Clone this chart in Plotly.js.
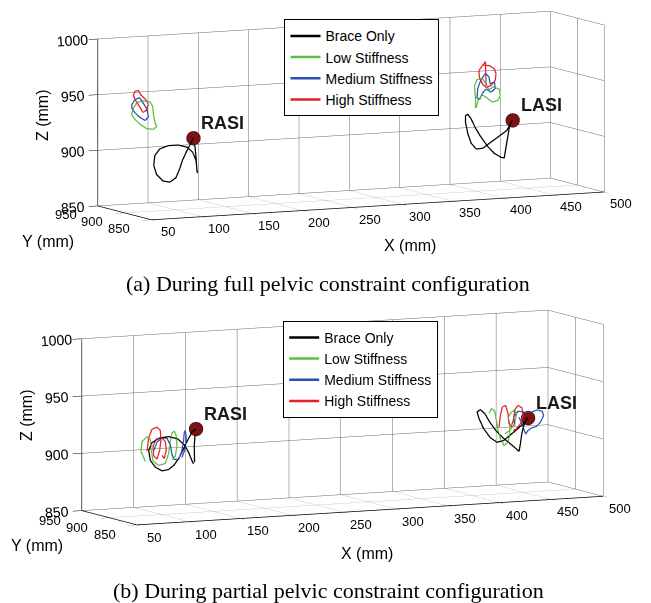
<!DOCTYPE html>
<html><head><meta charset="utf-8">
<script src="https://cdn.plot.ly/plotly-3.0.1.min.js"></script>
<style>html,body{margin:0;padding:0;background:#fff;}#c{width:651px;height:603px;}</style>
</head><body><div id="c"></div>
<script>
// ---------- axes / tick labels ----------
const X_RANGE = [50,500];
const Y_RANGE = [850,950];
const Z_RANGE = [850,1000];
const X_TICKS = [50,100,150,200,250,300,350,400,450,500];
const Y_TICKS = [850,900,950];
const Z_TICKS = [850,900,950,1000];
const SERIES = ['Brace Only','Low Stiffness','Medium Stiffness','High Stiffness'];
const COLORS = ['#000000','#5cbf3f','#2b4fb4','#e8202a'];
const AXIS_TITLES = ['X (mm)','Y (mm)','Z (mm)'];

// ---------- (a) full pelvic constraint ----------
const A_RASI_BRACE_X = [122.3,121,117.7,112.3,103.3,93.3,85,80,79,81.7,88.3,95,101,104.3,107.7,111.7,115.7,118.3,119.7,121,122];
const A_RASI_BRACE_Y = [900,900,900,900,900,900,900,900,900,900,900,900,900,900,900,900,900,900,900,900,900];
const A_RASI_BRACE_Z = [881.7,893.1,900.7,905.5,908.0,908.0,905.5,899.8,891.0,882.8,876.4,875.2,878.7,885.6,894.4,902.0,908.8,913.5,907.5,896.1,882.6];
const A_RASI_LOW_X = [58.7,62.1,68.7,75.4,78.0,78.7,80.4,82.0,78.7,72.1,65.4,60.4,57.1,58.7];
const A_RASI_LOW_Y = [900,900,900,900,900,900,900,900,900,900,900,900,900,900];
const A_RASI_LOW_Z = [943.8,948.2,949.7,948.2,943.8,936.4,928.9,925.9,923.5,924.4,928.9,933.3,937.8,943.8];
const A_RASI_MED_X = [57.1,60.4,64.7,68.1,72.1,73.7,70.4,65.4,60.4,57.1,57.1];
const A_RASI_MED_Y = [900,900,900,900,900,900,900,900,900,900,900];
const A_RASI_MED_Z = [946.7,951.2,952.7,948.2,942.2,934.8,931.9,934.8,939.3,943.8,946.7];
const A_RASI_HIGH_X = [60.4,63.7,66.1,71.4,73.7,71.4,68.1,65.4,61.4,58.7,60.4];
const A_RASI_HIGH_Y = [900,900,900,900,900,900,900,900,900,900,900];
const A_RASI_HIGH_Z = [958.7,959.2,955.1,950.3,946.2,940.8,939.3,943.8,949.7,955.1,958.7];

const A_LASI_BRACE_X = [435.6,433.0,429.7,424.1,418.4,412.5,406.0,399.4,394.5,391.2,388.8,388.8,391.2,394.5,398.7,404.3,410.9,417.4,424.1,427.3,429.0,430.7,432.3,434.9];
const A_LASI_BRACE_Y = [900,900,900,900,900,900,900,900,900,900,900,900,900,900,900,900,900,900,900,900,900,900,900,900];
const A_LASI_BRACE_Z = [911.9,908.0,902.8,899.5,895.9,892.4,888.3,888.0,893.4,901.9,912.4,918.4,919.7,915.1,906.8,898.2,889.6,883.1,879.2,878.4,887.9,896.7,905.5,911.3];
const A_LASI_LOW_X = [398.7,398.7,397.7,400.1,405.3,409.3,412.0,416.4,422.4,423.3,420.8,415.2,409.3,405.3,401.1,399.4];
const A_LASI_LOW_Y = [900,900,900,900,900,900,900,900,900,900,900,900,900,900,900,900];
const A_LASI_LOW_Z = [924.9,933.9,944.3,950.2,951.1,945.7,940.4,942.8,940.4,934.5,930.3,929.4,933.9,936.3,931.4,924.9];
const A_LASI_MED_X = [400.1,401.1,404.3,408.6,412.0,413.3,417.4,418.4,414.2,409.3,406.0,402.7,400.1];
const A_LASI_MED_Y = [900,900,900,900,900,900,900,900,900,900,900,900,900];
const A_LASI_MED_Z = [933.9,942.8,950.2,955.3,952.3,945.7,947.2,941.3,938.3,941.3,938.3,932.3,933.9];
const A_LASI_HIGH_X = [409.3,408.6,406.0,412.5,417.4,419.1,418.4,414.2,409.3,406.0,402.7,402.1,402.7,406.0];
const A_LASI_HIGH_Y = [900,900,900,900,900,900,900,900,900,900,900,900,900,900];
const A_LASI_HIGH_Z = [944.3,966.0,963.0,962.2,959.1,954.7,948.8,944.3,942.8,945.7,951.7,957.7,959.1,963.0];

const A_MARKER_X = [118.3,435.6];
const A_MARKER_Y = [900,900];
const A_MARKER_Z = [913.5,911.9];

// ---------- (b) partial pelvic constraint ----------
const B_RASI_BRACE_X = [132.2,131.9,132.9,133.5,129.7,125.4,121.6,117.7,112.6,107.1,100.8,94.3,89.5,87.9,91.1,98.5,107.1,115.8,122.3,126.4,129.7,131.2];
const B_RASI_BRACE_Y = [900,900,900,900,900,900,900,900,900,900,900,900,900,900,900,900,900,900,900,900,900,900];
const B_RASI_BRACE_Z = [893.9,908.5,920.2,923.0,920.3,913.2,906.2,899.1,892.7,888.9,888.1,891.7,897.9,906.7,913.3,917.0,917.6,915.3,909.6,903.0,895.4,892.4];
const B_RASI_LOW_X = [84.7,80.5,81.5,86.3,89.5,90.2,92.1,97.5,104.0,107.2,108.8,110.4,112.6,114.6,115.2,113.6,110.4];
const B_RASI_LOW_Y = [900,900,900,900,900,900,900,900,900,900,900,900,900,900,900,900,900];
const B_RASI_LOW_Z = [897.3,906.1,914.8,918.6,916.3,907.5,897.3,892.9,894.4,903.1,913.4,920.7,922.1,917.7,909.0,900.2,897.3];
const B_RASI_MED_X = [92.7,95.9,100.8,105.6,108.8,110.4,112.6,116.8,120.0,121.6,122.3,123.2,124.2,123.2,120.0];
const B_RASI_MED_Y = [900,900,900,900,900,900,900,900,900,900,900,900,900,900,900];
const B_RASI_MED_Z = [906.1,913.4,916.9,916.3,910.4,901.7,897.3,897.3,904.6,913.4,920.7,922.1,916.3,906.1,898.7];
const B_RASI_HIGH_X = [86.3,87.9,91.1,95.9,99.1,99.8,98.5,95.9,92.7,92.1,95.3,100.8,104.0,104.9,103.0,100.8];
const B_RASI_HIGH_Y = [900,900,900,900,900,900,900,900,900,900,900,900,900,900,900,900];
const B_RASI_HIGH_Z = [906.1,917.7,925.0,926.5,923.6,914.8,906.1,898.7,901.7,910.4,916.3,916.9,913.4,906.1,898.7,901.7];

const B_LASI_BRACE_X = [454.0,449.2,442.8,436.4,430.6,424.2,417.8,411.3,406.8,404.9,408.1,412.3,417.1,422.9,429.9,438.0,445.4,446.7,448.0,449.9,452.4];
const B_LASI_BRACE_Y = [900,900,900,900,900,900,900,900,900,900,900,900,900,900,900,900,900,900,900,900,900];
const B_LASI_BRACE_Z = [914.8,909.7,904.8,900.3,896.3,895.1,899.3,907.6,916.7,922.6,924.5,920.8,913.2,905.5,898.6,892.3,886.0,892.4,901.0,908.2,913.0];
const B_LASI_LOW_X = [416.5,418.7,421.9,423.5,425.1,427.4,430.9,434.8,436.4,436.4,434.8,438.0,441.2,442.8,441.2,436.4,431.6];
const B_LASI_LOW_Y = [900,900,900,900,900,900,900,900,900,900,900,900,900,900,900,900,900];
const B_LASI_LOW_Z = [920.5,924.8,922.5,914.2,905.4,897.9,891.8,894.5,901.7,910.5,916.4,920.6,922.5,918.9,910.2,904.7,902.0];
const B_LASI_MED_X = [441.2,440.2,444.4,450.8,457.3,462.7,467.9,469.1,465.9,462.1,457.3,454.0,451.8,449.9,447.6,445.4];
const B_LASI_MED_Y = [900,900,900,900,900,900,900,900,900,900,900,900,900,900,900,900];
const B_LASI_MED_Z = [908.7,916.1,921.1,919.8,919.4,921.2,919.7,915.8,910.2,906.7,905.7,903.6,900.8,905.3,911.3,915.8];
const B_LASI_HIGH_X = [426.1,427.4,429.3,432.5,434.8,435.7,438.0,440.2,441.2,444.4,448.3,449.2,446.7,442.8,439.6];
const B_LASI_HIGH_Y = [900,900,900,900,900,900,900,900,900,900,900,900,900,900,900];
const B_LASI_HIGH_Z = [908.2,918.4,925.5,926.8,919.4,910.6,908.1,914.7,922.5,926.1,923.8,917.0,909.9,905.7,904.5];

const B_MARKER_X = [133.5,454.0];
const B_MARKER_Y = [900,900];
const B_MARKER_Z = [923.0,914.8];

const MARKER_LABELS = ['RASI','LASI'];
const CAPTIONS = ['(a) During full pelvic constraint configuration','(b) During partial pelvic constraint configuration'];

// ---------- build traces ----------
const panels = [
  {scene:'scene', legend:'legend',
   rasi:[[A_RASI_BRACE_X,A_RASI_BRACE_Y,A_RASI_BRACE_Z],[A_RASI_LOW_X,A_RASI_LOW_Y,A_RASI_LOW_Z],[A_RASI_MED_X,A_RASI_MED_Y,A_RASI_MED_Z],[A_RASI_HIGH_X,A_RASI_HIGH_Y,A_RASI_HIGH_Z]],
   lasi:[[A_LASI_BRACE_X,A_LASI_BRACE_Y,A_LASI_BRACE_Z],[A_LASI_LOW_X,A_LASI_LOW_Y,A_LASI_LOW_Z],[A_LASI_MED_X,A_LASI_MED_Y,A_LASI_MED_Z],[A_LASI_HIGH_X,A_LASI_HIGH_Y,A_LASI_HIGH_Z]],
   mk:[A_MARKER_X,A_MARKER_Y,A_MARKER_Z]},
  {scene:'scene2', legend:'legend2',
   rasi:[[B_RASI_BRACE_X,B_RASI_BRACE_Y,B_RASI_BRACE_Z],[B_RASI_LOW_X,B_RASI_LOW_Y,B_RASI_LOW_Z],[B_RASI_MED_X,B_RASI_MED_Y,B_RASI_MED_Z],[B_RASI_HIGH_X,B_RASI_HIGH_Y,B_RASI_HIGH_Z]],
   lasi:[[B_LASI_BRACE_X,B_LASI_BRACE_Y,B_LASI_BRACE_Z],[B_LASI_LOW_X,B_LASI_LOW_Y,B_LASI_LOW_Z],[B_LASI_MED_X,B_LASI_MED_Y,B_LASI_MED_Z],[B_LASI_HIGH_X,B_LASI_HIGH_Y,B_LASI_HIGH_Z]],
   mk:[B_MARKER_X,B_MARKER_Y,B_MARKER_Z]}
];
const traces = [];
panels.forEach((p,pi)=>{
  for(let k=0;k<4;k++){
    [p.rasi[k], p.lasi[k]].forEach((d,j)=>{
      traces.push({type:'scatter3d', mode:'lines', scene:p.scene, legend:p.legend,
        x:d[0], y:d[1], z:d[2], name:SERIES[k], legendgroup:'g'+pi+'_'+k,
        showlegend:j===0, line:{color:COLORS[k], width:2.5}, hoverinfo:'skip'});
    });
  }
  traces.push({type:'scatter3d', mode:'markers', scene:p.scene, legend:p.legend,
    x:p.mk[0], y:p.mk[1], z:p.mk[2], showlegend:false, hoverinfo:'skip',
    marker:{size:8, color:'#7d1214', line:{color:'#2a0000', width:1}}});
});

const FONT = 'Liberation Sans, Arial, Helvetica, sans-serif';
function axis(range, tickvals, ticklen, showLabels){
  return {range:range, autorange:false, tickvals:tickvals, ticktext:tickvals.map(String),
    showticklabels:showLabels,
    showbackground:false, showgrid:true, gridcolor:'#686868', gridwidth:1,
    showline:true, linecolor:'#000', linewidth:1.5, ticks:'outside', tickcolor:'#000', ticklen:ticklen,
    tickfont:{family:FONT, size:13, color:'#000'}, showspikes:false, zeroline:false,
    title:{text:''}};
}
const R = 10;
const EYE = {x:-0.435*R, y:-0.892*R, z:0.126*R};
function scene(dom, mk, K){
  const anns = [];
  // marker names
  mk[0].forEach((v,i)=>anns.push({x:mk[0][i], y:mk[1][i], z:mk[2][i], text:'<b>'+MARKER_LABELS[i]+'</b>',
      showarrow:false, xanchor:'left', yanchor:'middle', xshift:6, yshift:15,
      font:{family:FONT, size:18, color:'#1a1a1a'}}));
  // x tick labels along the front bottom edge
  X_TICKS.forEach(t=>anns.push({x:t, y:Y_RANGE[0], z:Z_RANGE[0], text:String(t), showarrow:false,
      xanchor:'center', yanchor:'middle', xshift:17, yshift:-12, font:{family:FONT, size:13, color:'#000'}}));
  // y tick labels along the left bottom edge
  Y_TICKS.forEach(t=>anns.push({x:X_RANGE[0], y:t, z:Z_RANGE[0], text:String(t), showarrow:false,
      xanchor:'center', yanchor:'middle', xshift:-32, yshift:-9, font:{family:FONT, size:13, color:'#000'}}));
  return {domain:dom,
    xaxis:axis(X_RANGE, X_TICKS, 10, false),
    yaxis:axis(Y_RANGE, Y_TICKS, 8, false),
    zaxis:axis(Z_RANGE, Z_TICKS, 6, true),
    aspectmode:'manual', aspectratio:{x:1*K, y:0.243*K, z:0.334*K},
    camera:{eye:EYE, center:{x:0,y:0,z:0}, up:{x:0,y:0,z:1}, projection:{type:'orthographic'}},
    annotations: anns
  };
}
const legendBase = {bgcolor:'#fff', bordercolor:'#000', borderwidth:1, xanchor:'left', yanchor:'top',
  font:{family:FONT, size:14, color:'#000'}, tracegroupgap:0, itemwidth:30};
function ann(x, y, text, size, family, angle){
  return {xref:'paper', yref:'paper', x:x/651, y:1-y/603, text:text, showarrow:false,
    xanchor:'center', yanchor:'middle', textangle:angle||0, font:{family:family, size:size, color:'#000'}};
}
const SERIF = 'Liberation Serif, Times New Roman, serif';
const layout = {
  width:651, height:603, margin:{l:0,r:0,t:0,b:0}, paper_bgcolor:'#fff',
  scene: scene({x:[0.078,1.0], y:[0.619,0.999]}, [A_MARKER_X,A_MARKER_Y,A_MARKER_Z], 4.4),
  scene2: scene({x:[0.052,1.0], y:[0.117,0.497]}, [B_MARKER_X,B_MARKER_Y,B_MARKER_Z], 4.53),
  legend: Object.assign({x:0.437, y:0.968}, legendBase),
  legend2: Object.assign({x:0.435, y:0.468}, legendBase),
  annotations: [
    ann(410, 245, AXIS_TITLES[0], 16, FONT),
    ann(48, 242, AXIS_TITLES[1], 16, FONT),
    ann(42, 115, AXIS_TITLES[2], 16, FONT, -90),
    ann(367, 553, AXIS_TITLES[0], 16, FONT),
    ann(37, 545, AXIS_TITLES[1], 16, FONT),
    ann(26, 415, AXIS_TITLES[2], 16, FONT, -90),
    ann(328, 283, CAPTIONS[0], 22, SERIF),
    ann(328, 590, CAPTIONS[1], 22, SERIF)
  ]
};
Plotly.newPlot('c', traces, layout, {displayModeBar:false, scrollZoom:false});
</script></body></html>
